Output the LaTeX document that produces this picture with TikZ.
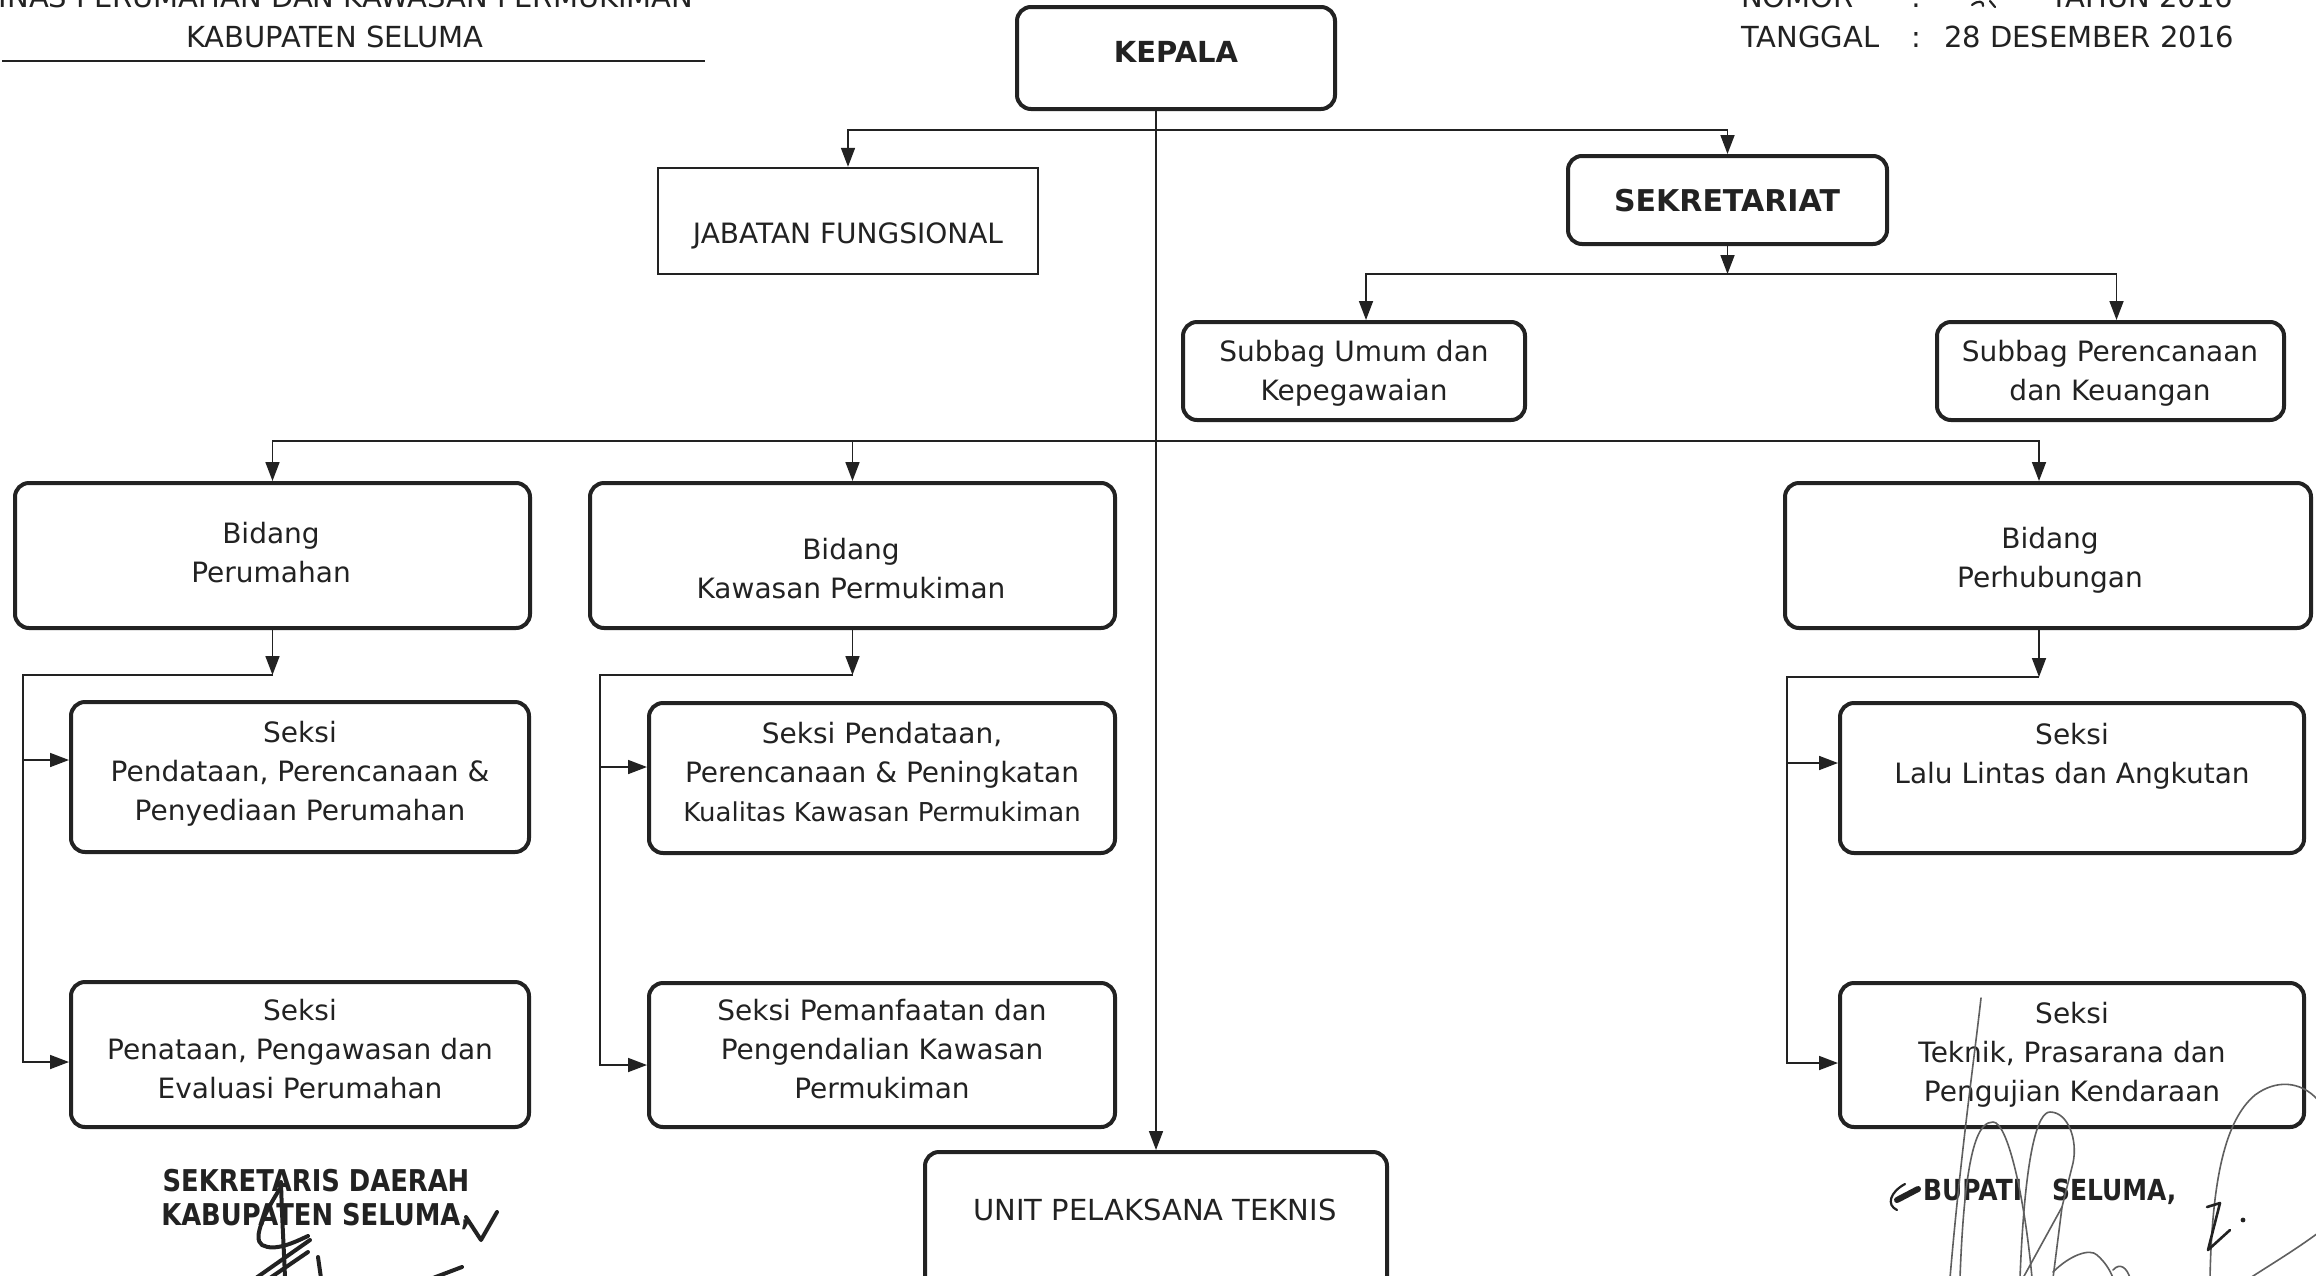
\documentclass[tikz,border=0pt]{standalone}
\usepackage{fontspec}
\setmainfont{DejaVu Sans}
\newfontfamily\sigfamily{DejaVu Sans}[FakeStretch=0.86]
\usetikzlibrary{arrows.meta}
\definecolor{ink}{RGB}{34,34,34}
\definecolor{pencil}{RGB}{95,95,95}
\newcommand\orgtext{\fontsize{28}{39}\selectfont}
\newcommand\orgsmall{\fontsize{26}{36}\selectfont}
\newcommand\orghead{\fontsize{29}{40}\selectfont}
\newcommand\orgbold{\fontsize{29}{39}\selectfont\bfseries}
\newcommand\orgsig{\sigfamily\bfseries\fontsize{30}{34}\selectfont}

\begin{document}
\begin{tikzpicture}[x=1pt,y=-1pt,
  box/.style={draw=ink, line width=4pt, rounded corners=14pt, inner sep=0pt},
  flatbox/.style={draw=ink, line width=2.4pt, inner sep=0pt},
  lbl/.style={text=ink, align=center, inner sep=0pt, font=\orgtext},
  hd/.style={text=ink, inner sep=0pt, anchor=base west, font=\orghead},
  wire/.style={draw=ink, line width=1.7pt},
  arr/.style={wire, -{Triangle[length=19pt,width=14pt]}},
  pen/.style={draw=pencil, line width=1.6pt, line cap=round, line join=round},
  marker/.style={draw=ink, line width=4pt, line cap=round, line join=round}]

\fill[white] (0,0) rectangle (2316,1275);
\useasboundingbox (0,0) rectangle (2316,1275);
\clip (0,0) rectangle (2316,1275);

% ---------- page header ----------
\node[lbl, font=\orghead] (dinas) at (335,19)
  {\strut DINAS PERUMAHAN DAN KAWASAN PERMUKIMAN\\\strut KABUPATEN SELUMA};
\draw[wire, line width=1.8pt] (2,61) -- (705,61);

\node[hd] (nomor) at (1741,7) {NOMOR};
\node[hd] (nomorsep) at (1911,7) {:};
\node[hd] (tahun) at (2050,7) {TAHUN 2016};
\node[hd] (tanggal) at (1741,47) {TANGGAL};
\node[hd] (tanggalsep) at (1911,47) {:};
\node[hd] (tgl) at (1944,47) {28 DESEMBER 2016};
\draw[marker, line width=2.2pt] (1972,5) .. controls (1978,0) and (1984,1) .. (1983,6);
\draw[marker, line width=2.2pt] (1990,1) -- (1995,7);

% ---------- boxes ----------
\node[box, minimum width=318pt, minimum height=102pt] (kepala) at (1176,58) {};
\node[flatbox, minimum width=380pt, minimum height=106pt] (jab) at (848,221) {};
\node[box, minimum width=319pt, minimum height=88pt] (sek) at (1727.5,200) {};
\node[box, minimum width=342pt, minimum height=98pt] (umum) at (1354,371) {};
\node[box, minimum width=347pt, minimum height=98pt] (renc) at (2110.5,371) {};
\node[box, minimum width=515pt, minimum height=145pt] (bid1) at (272.5,555.5) {};
\node[box, minimum width=525pt, minimum height=145pt] (bid2) at (852.5,555.5) {};
\node[box, minimum width=526pt, minimum height=145pt] (bid3) at (2048,555.5) {};
\node[box, minimum width=458pt, minimum height=150pt] (s11) at (300,777) {};
\node[box, minimum width=458pt, minimum height=145pt] (s12) at (300,1054.5) {};
\node[box, minimum width=466pt, minimum height=150pt] (s21) at (882,778) {};
\node[box, minimum width=466pt, minimum height=144pt] (s22) at (882,1055) {};
\node[box, minimum width=464pt, minimum height=150pt] (s31) at (2072,778) {};
\node[box, minimum width=464pt, minimum height=144pt] (s32) at (2072,1055) {};
\node[box, minimum width=462pt, minimum height=148pt] (unit) at (1156,1226) {};

% ---------- box texts ----------
\node[lbl, font=\orgbold] (kepala-t) at (1176,55) {\strut KEPALA};
\node[lbl] (jab-t) at (848,236) {\strut JABATAN FUNGSIONAL};
\node[lbl, font={\fontsize{30}{39}\selectfont\bfseries}] (sek-t) at (1727,204) {\strut SEKRETARIAT};
\node[lbl] (umum-t) at (1354,373) {\strut Subbag Umum dan\\\strut Kepegawaian};
\node[lbl] (renc-t) at (2110,373) {\strut Subbag Perencanaan\\\strut dan Keuangan};
\node[lbl] (bid1-t) at (271,555) {\strut Bidang\\\strut Perumahan};
\node[lbl] (bid2-t) at (851,571) {\strut Bidang\\\strut Kawasan Permukiman};
\node[lbl] (bid3-t) at (2050,560) {\strut Bidang\\\strut Perhubungan};
\node[lbl] (s11-t) at (300,774) {\strut Seksi\\\strut Pendataan, Perencanaan \&\\\strut Penyediaan Perumahan};
\node[lbl] (s12-t) at (300,1052) {\strut Seksi\\\strut Penataan, Pengawasan dan\\\strut Evaluasi Perumahan};
\node[lbl] (s21-t) at (882,774) {\strut Seksi Pendataan,\\\strut Perencanaan \& Peningkatan\\{\orgsmall\strut Kualitas Kawasan Permukiman}};
\node[lbl] (s22-t) at (882,1052) {\strut Seksi Pemanfaatan dan\\\strut Pengendalian Kawasan\\\strut Permukiman};
\node[lbl] (s31-t) at (2072,756) {\strut Seksi\\\strut Lalu Lintas dan Angkutan};
\node[lbl] (s32-t) at (2072,1055) {\strut Seksi\\\strut Teknik, Prasarana dan\\\strut Pengujian Kendaraan};
\node[lbl, font={\fontsize{29}{39}\selectfont}] (unit-t) at (1155,1213) {\strut UNIT PELAKSANA TEKNIS};

% ---------- connectors ----------
\draw[arr] (kepala.south -| unit.north) -- (unit.north);
\coordinate (row1) at (unit.north |- 0,130);
\draw[arr] (row1) -| (jab.north);
\draw[arr] (row1) -| (sek.north);

\coordinate (row2) at (sek.south |- 0,274);
\draw[arr] (sek.south) -- (row2);
\draw[arr] (row2) -| ([xshift=12pt]umum.north);
\draw[arr] (row2) -| ([xshift=6pt]renc.north);

\coordinate (row3) at (unit.north |- 0,441);
\draw[arr] (row3) -| (bid1.north);
\draw[arr] (row3) -| (bid2.north);
\draw[arr] (row3) -| ([xshift=-9pt]bid3.north);

% Bidang Perumahan
\coordinate (j1) at (bid1.south |- 0,675);
\coordinate (t1) at (23,760);
\coordinate (c1) at (23,1062);
\draw[arr] (bid1.south) -- (j1);
\draw[arr] (j1) -| (c1) -- (c1 -| s12.west);
\draw[arr] (t1) -- (t1 -| s11.west);

% Bidang Kawasan Permukiman
\coordinate (j2) at (bid2.south |- 0,675);
\coordinate (t2) at (600,767);
\coordinate (c2) at (600,1065);
\draw[arr] (bid2.south) -- (j2);
\draw[arr] (j2) -| (c2) -- (c2 -| s22.west);
\draw[arr] (t2) -- (t2 -| s21.west);

% Bidang Perhubungan
\coordinate (b3s) at ([xshift=-9pt]bid3.south);
\coordinate (j3) at (b3s |- 0,677);
\coordinate (t3) at (1787,763);
\coordinate (c3) at (1787,1063);
\draw[arr] (b3s) -- (j3);
\draw[arr] (j3) -| (c3) -- (c3 -| s32.west);
\draw[arr] (t3) -- (t3 -| s31.west);

% ---------- signature blocks ----------
\node[lbl, font=\orgsig] (sekda) at (316,1202)
  {\strut SEKRETARIS DAERAH\\\strut KABUPATEN SELUMA,};
\node[lbl, anchor=base west, font={\sigfamily\bfseries\fontsize{29}{34}\selectfont}] (bupati)
  at (1923,1200) {BUPATI\hspace{30pt}SELUMA,};

% handwritten strokes, left
\draw[marker] (281,1182) .. controls (282,1220) and (284,1250) .. (285,1278);
\draw[marker] (281,1187) .. controls (265,1212) and (252,1238) .. (262,1245)
  .. controls (275,1252) and (295,1242) .. (308,1236);
\draw[marker] (256,1278) -- (310,1240);
\draw[marker] (270,1278) -- (308,1252);
\draw[marker] (318,1257) -- (321,1278);
\draw[marker] (466,1217) -- (481,1240) -- (497,1212);
\draw[marker] (433,1278) -- (462,1267);

% handwritten strokes, right
\draw[pen] (1981,998) .. controls (1974,1060) and (1960,1160) .. (1950,1278);
\draw[pen] (1960,1278) .. controls (1965,1140) and (1980,1122) .. (1993,1122)
  .. controls (2008,1122) and (2025,1200) .. (2032,1278);
\draw[pen] (2020,1278) .. controls (2025,1150) and (2038,1112) .. (2050,1112)
  .. controls (2068,1112) and (2078,1140) .. (2073,1163) -- (2062,1207);
\draw[pen] (2062,1207) -- (2023,1278);
\draw[pen] (2062,1207) -- (2053,1278);
\draw[pen] (2053,1272) .. controls (2070,1255) and (2090,1248) .. (2097,1255)
  .. controls (2105,1262) and (2110,1270) .. (2113,1278);
\draw[pen] (2113,1270) .. controls (2120,1262) and (2127,1268) .. (2130,1278);
\draw[pen] (2210,1278) .. controls (2212,1180) and (2225,1120) .. (2255,1095)
  .. controls (2275,1080) and (2300,1080) .. (2318,1100);
\draw[pen] (2318,1233) .. controls (2295,1250) and (2270,1265) .. (2250,1278);
\draw[marker, line width=2.6pt] (2207,1207) -- (2220,1203) -- (2208,1250) -- (2230,1230);
\fill[ink] (2243,1220) circle (2.4pt);
\draw[marker, line width=2.2pt] (1905,1184) .. controls (1890,1192) and (1886,1205) .. (1897,1210);
\draw[marker, line width=6pt] (1897,1200) -- (1918,1189);
\end{tikzpicture}
\end{document}
